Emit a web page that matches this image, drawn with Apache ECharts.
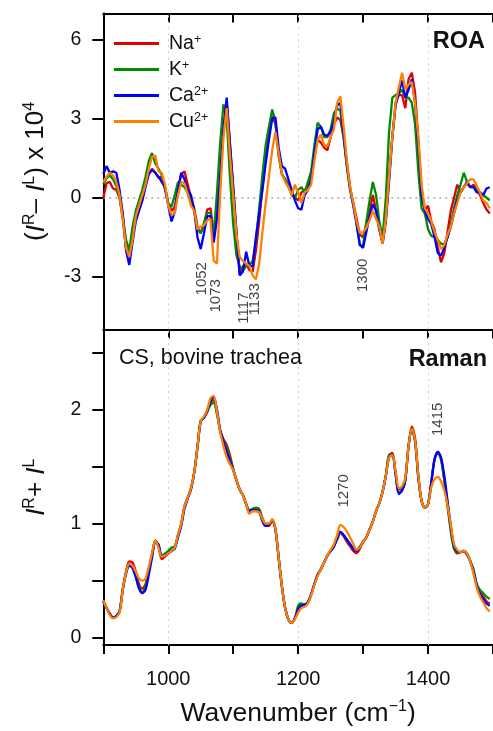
<!DOCTYPE html>
<html>
<head>
<meta charset="utf-8">
<script src="https://cdn.jsdelivr.net/npm/echarts@6/dist/echarts.min.js"></script>
<style>
  html, body { margin: 0; padding: 0; background: #fff; }
  #chart { width: 493px; height: 731px; }
</style>
</head>
<body>
<div id="chart"></div>
<script>
// Wavenumber grid (cm^-1) shared by every spectrum
const wavenumber = [
  900, 905, 910, 915, 920, 925, 930, 935, 940, 945, 950, 955, 960, 965, 970, 975, 980, 985, 990, 995,
  1000, 1005, 1010, 1015, 1020, 1025, 1030, 1035, 1040, 1045, 1050, 1055, 1060, 1065, 1070, 1075, 1080, 1085, 1090, 1095,
  1100, 1105, 1110, 1115, 1120, 1125, 1130, 1135, 1140, 1145, 1150, 1155, 1160, 1165, 1170, 1175, 1180, 1185, 1190, 1195,
  1200, 1205, 1210, 1215, 1220, 1225, 1230, 1235, 1240, 1245, 1250, 1255, 1260, 1265, 1270, 1275, 1280, 1285, 1290, 1295,
  1300, 1305, 1310, 1315, 1320, 1325, 1330, 1335, 1340, 1345, 1350, 1355, 1360, 1365, 1370, 1375, 1380, 1385, 1390, 1395,
  1400, 1405, 1410, 1415, 1420, 1425, 1430, 1435, 1440, 1445, 1450, 1455, 1460, 1465, 1470, 1475, 1480, 1485, 1490, 1495
];

const ionNames = ['Na+', 'K+', 'Ca2+', 'Cu2+'];
const ionColors = ['#e00000', '#008c00', '#0000ff', '#ff8000'];

// ROA, (I^R - I^L) x 10^4
const roaNa = [
  0.0, 0.55, 0.6, 0.35, 0.3, 0.0, -0.8, -1.9, -2.2, -1.5, -0.6, -0.45, -0.1, 0.5, 0.9, 1.1, 0.95, 0.75, 0.8, 0.4,
  -0.2, -0.5, -0.35, 0.3, 0.9, 1.0, 0.5, 0.0, -0.4, -1.1, -1.35, -1.05, -0.45, -0.4, -1.3, -0.8, 0.8, 2.6, 3.65, 2.1,
  0.4, -1.3, -2.9, -2.6, -2.5, -2.75, -2.8, -2.0, -0.9, 0.4, 1.5, 2.5, 3.1, 2.8, 1.6, 0.9, 0.7, 0.5, 0.2, 0.0,
  -0.1, 0.2, 0.3, 0.4, 0.7, 1.6, 2.2, 2.1, 1.9, 1.8, 2.3, 2.8, 3.05, 2.95, 2.3, 1.2, 0.3, -0.2, -0.8, -1.4,
  -1.5, -1.0, -0.5, 0.1, -0.5, -1.2, -1.7, -0.8, 0.8, 2.3, 3.6, 3.9, 3.9, 3.4, 4.5, 4.75, 4.0, 2.2, 0.3, -0.5,
  -0.3, -0.9, -1.2, -1.9, -2.45, -2.1, -1.3, -0.5, 0.0, 0.5, 0.2, 0.4, 0.55, 0.4, 0.5, 0.3, 0.1, -0.2, -0.45, -0.6
];
const roaK = [
  0.5, 0.75, 0.85, 0.7, 0.45, 0.0, -0.7, -1.6, -2.0, -1.1, -0.5, -0.1, 0.3, 0.8, 1.4, 1.7, 1.3, 1.1, 0.85, 0.3,
  -0.2, -0.35, 0.1, 0.6, 0.5, 0.4, 0.2, -0.1, -0.5, -1.2, -1.35, -0.95, -0.55, -0.6, -1.45, 0.2, 2.1, 3.55, 3.0, 0.8,
  -1.0, -2.2, -2.6, -2.75, -2.6, -2.55, -2.4, -1.6, -0.4, 0.9, 2.0, 2.7, 3.35, 2.9, 1.6, 0.9, 0.7, 0.45, 0.1, 0.0,
  0.3, 0.4, 0.2, 0.6, 1.0, 2.0, 2.85, 2.7, 2.3, 2.3, 2.6, 3.2, 3.4, 3.3, 2.3, 1.2, 0.3, -0.3, -1.0, -1.8,
  -1.8, -0.9, -0.1, 0.6, 0.1, -0.9, -1.5, 0.0, 2.5, 3.8, 3.9, 3.95, 4.1, 3.8, 3.8, 3.6, 2.8, 1.0, -0.4, -0.6,
  -1.2, -1.45, -1.5, -1.6, -1.75, -1.75, -1.5, -1.0, -0.4, 0.1, 0.5, 0.95, 0.6, 0.4, 0.4, 0.3, 0.2, 0.1, 0.0, -0.1
];
const roaCa = [
  0.9, 1.2, 0.95, 1.0, 0.95, 0.3, -0.6, -2.0, -2.55, -1.7, -0.9, -0.5, -0.1, 0.4, 0.9, 1.05, 0.95, 0.8, 0.6, 0.4,
  -0.3, -0.9, -0.55, 0.3, 0.95, 0.7, 0.3, 0.1, -0.5, -1.5, -1.95, -1.35, -0.7, -0.7, -1.7, -0.8, 0.8, 2.6, 3.8, 2.0,
  0.4, -1.35, -2.95, -2.8, -2.05, -2.6, -2.6, -1.5, -0.6, 0.3, 1.3, 2.2, 3.0, 3.05, 1.9, 1.2, 1.1, 0.7, 0.3, -0.1,
  -0.4, -0.45, 0.1, 0.3, 0.7, 1.7, 2.6, 2.7, 2.4, 2.35, 2.5, 2.9, 3.5, 3.6, 2.4, 1.3, 0.4, -0.3, -1.0, -1.8,
  -1.9, -1.3, -0.7, -0.25, -0.5, -1.2, -1.75, -0.9, 0.6, 2.3, 3.5, 4.0, 4.45, 3.8, 4.1, 4.5, 3.6, 2.0, 0.1, -0.5,
  -0.8, -1.0, -1.5, -2.1, -2.2, -1.9, -1.5, -1.1, -0.6, -0.1, 0.2, 0.4, 0.6, 0.4, 0.4, 0.2, 0.2, 0.1, 0.35, 0.4
];
const roaCu = [
  0.6, 0.8, 0.95, 0.85, 0.6, 0.1, -0.8, -1.9, -2.25, -1.6, -0.7, -0.3, 0.1, 0.5, 1.1, 1.55, 1.6, 1.0, 0.95, 0.5,
  -0.3, -0.65, -0.6, 0.1, 0.6, 0.55, 0.15, -0.3, -0.5, -1.2, -1.1, -1.05, -0.85, -0.8, -2.4, -2.5, 0.2, 2.3, 3.4, 1.6,
  0.1, -1.4, -2.25, -2.4, -2.5, -2.6, -2.95, -3.1, -2.5, -1.3, -0.2, 0.8, 1.8, 2.5, 1.7, 0.9, 0.6, 0.4, 0.1, 0.5,
  0.2, -0.2, 0.2, 0.3, 0.5, 1.4, 2.2, 2.4, 2.0, 1.95, 2.3, 2.6, 3.6, 3.85, 2.7, 1.4, 0.4, -0.2, -0.9, -1.35,
  -1.3, -1.15, -0.85, -0.5, -0.8, -1.1, -1.75, -0.8, 0.8, 2.3, 3.6, 4.2, 4.75, 4.1, 4.3, 4.4, 3.6, 2.3, 0.5, -0.4,
  -0.6, -0.9, -1.3, -1.6, -1.95, -1.8, -1.4, -1.1, -0.6, -0.2, 0.2, 0.4, 0.55, 0.7, 0.7, 0.45, 0.2, -0.1, -0.2, -0.4
];

// Raman, I^R + I^L
const ramanNa = [
  0.32, 0.26, 0.21, 0.175, 0.19, 0.23, 0.43, 0.58, 0.67, 0.66, 0.58, 0.47, 0.43, 0.47, 0.6, 0.72, 0.85, 0.8, 0.69, 0.71,
  0.74, 0.76, 0.79, 0.9, 1.0, 1.15, 1.23, 1.31, 1.45, 1.67, 1.9, 1.93, 1.98, 2.07, 2.08, 1.97, 1.82, 1.74, 1.69, 1.6,
  1.48, 1.38, 1.3, 1.25, 1.17, 1.09, 1.11, 1.11, 1.1, 1.03, 0.98, 0.98, 1.03, 0.95, 0.7, 0.45, 0.26, 0.16, 0.13, 0.17,
  0.25, 0.29, 0.29, 0.31, 0.38, 0.47, 0.55, 0.6, 0.66, 0.72, 0.76, 0.8, 0.86, 0.92, 0.89, 0.84, 0.8, 0.76, 0.74, 0.78,
  0.84, 0.88, 0.95, 1.02, 1.11, 1.18, 1.28, 1.42, 1.6, 1.62, 1.45, 1.3, 1.3, 1.4, 1.68, 1.85, 1.75, 1.42, 1.2, 1.14,
  1.17, 1.36, 1.57, 1.63, 1.57, 1.38, 1.15, 0.96, 0.79, 0.74, 0.75, 0.76, 0.73, 0.67, 0.58, 0.46, 0.4, 0.36, 0.32, 0.3
];
const ramanK = [
  0.32, 0.26, 0.21, 0.175, 0.19, 0.23, 0.42, 0.57, 0.64, 0.62, 0.54, 0.44, 0.4, 0.45, 0.6, 0.73, 0.85, 0.8, 0.71, 0.74,
  0.76, 0.79, 0.8, 0.9, 1.0, 1.15, 1.23, 1.31, 1.45, 1.67, 1.9, 1.93, 1.98, 2.04, 2.06, 1.96, 1.81, 1.73, 1.66, 1.57,
  1.48, 1.38, 1.3, 1.25, 1.17, 1.12, 1.13, 1.14, 1.13, 1.05, 1.0, 1.0, 1.03, 0.95, 0.7, 0.45, 0.26, 0.16, 0.13, 0.17,
  0.28, 0.3, 0.29, 0.31, 0.38, 0.47, 0.55, 0.6, 0.66, 0.72, 0.76, 0.8, 0.87, 0.92, 0.9, 0.86, 0.82, 0.78, 0.77, 0.8,
  0.84, 0.88, 0.95, 1.02, 1.11, 1.18, 1.28, 1.42, 1.6, 1.6, 1.44, 1.27, 1.29, 1.38, 1.68, 1.83, 1.73, 1.42, 1.2, 1.14,
  1.17, 1.37, 1.56, 1.62, 1.56, 1.38, 1.17, 0.93, 0.78, 0.75, 0.75, 0.76, 0.74, 0.67, 0.6, 0.47, 0.42, 0.39, 0.36, 0.34
];
const ramanCa = [
  0.32, 0.26, 0.21, 0.175, 0.19, 0.23, 0.42, 0.56, 0.63, 0.61, 0.53, 0.43, 0.39, 0.42, 0.55, 0.7, 0.83, 0.82, 0.72, 0.72,
  0.74, 0.76, 0.78, 0.88, 0.98, 1.13, 1.22, 1.3, 1.45, 1.67, 1.9, 1.93, 1.99, 2.07, 2.11, 2.0, 1.82, 1.72, 1.63, 1.55,
  1.47, 1.38, 1.3, 1.25, 1.17, 1.11, 1.12, 1.12, 1.11, 1.02, 0.98, 0.99, 1.03, 0.95, 0.7, 0.45, 0.26, 0.16, 0.13, 0.17,
  0.25, 0.28, 0.29, 0.31, 0.38, 0.47, 0.55, 0.6, 0.66, 0.72, 0.76, 0.8, 0.87, 0.93, 0.9, 0.86, 0.82, 0.78, 0.76, 0.79,
  0.84, 0.88, 0.95, 1.02, 1.11, 1.18, 1.28, 1.42, 1.58, 1.6, 1.43, 1.26, 1.29, 1.38, 1.68, 1.82, 1.72, 1.4, 1.2, 1.14,
  1.17, 1.36, 1.56, 1.63, 1.58, 1.42, 1.2, 0.98, 0.8, 0.76, 0.75, 0.76, 0.73, 0.67, 0.58, 0.46, 0.38, 0.34, 0.3, 0.28
];
const ramanCu = [
  0.33, 0.26, 0.2, 0.17, 0.18, 0.22, 0.42, 0.57, 0.65, 0.63, 0.58, 0.52, 0.5, 0.52, 0.62, 0.74, 0.85, 0.79, 0.71, 0.72,
  0.74, 0.76, 0.79, 0.9, 1.0, 1.15, 1.23, 1.31, 1.45, 1.67, 1.9, 1.94, 2.0, 2.1, 2.12, 1.98, 1.8, 1.68, 1.58, 1.52,
  1.47, 1.38, 1.3, 1.25, 1.17, 1.09, 1.11, 1.11, 1.1, 1.04, 1.0, 1.0, 1.04, 0.96, 0.7, 0.45, 0.26, 0.16, 0.13, 0.16,
  0.22, 0.26, 0.27, 0.3, 0.37, 0.46, 0.54, 0.6, 0.66, 0.72, 0.77, 0.82, 0.9, 0.99, 0.97, 0.93, 0.88, 0.82, 0.77, 0.79,
  0.84, 0.88, 0.95, 1.02, 1.11, 1.18, 1.28, 1.42, 1.58, 1.6, 1.46, 1.31, 1.33, 1.4, 1.68, 1.83, 1.73, 1.42, 1.2, 1.14,
  1.17, 1.32, 1.39, 1.41, 1.37, 1.29, 1.16, 0.99, 0.82, 0.77, 0.75, 0.76, 0.74, 0.67, 0.56, 0.44, 0.36, 0.31, 0.26, 0.23
];

// Band assignments marked on each panel (cm^-1)
const roaBands = [1052, 1073, 1117, 1133, 1300];
const ramanBands = [1270, 1415];

// Axis tick positions and labels
const xTicks = [900, 1000, 1100, 1200, 1300, 1400, 1500];
const xLabels = [1000, 1200, 1400];
const xGuides = [1000, 1200, 1400];
const roaTicks = [-3, 0, 3, 6];
const ramanTicks = [0, 0.5, 1, 1.5, 2, 2.5];
const ramanLabels = [0, 1, 2];

const FONT = '"Liberation Sans", Arial, Helvetica, sans-serif';
const roaSets = [roaNa, roaK, roaCa, roaCu];
const ramanSets = [ramanNa, ramanK, ramanCa, ramanCu];
const pairs = (ys) => wavenumber.map((x, i) => [x, ys[i]]);

const supRich = {
  i: { fontFamily: FONT, fontStyle: 'italic', fontSize: 26, color: '#111', lineHeight: 30 },
  n: { fontFamily: FONT, fontSize: 26, color: '#111', lineHeight: 30 },
  s: { fontFamily: FONT, fontSize: 16, color: '#111', verticalAlign: 'top', lineHeight: 30, padding: [0, 0, 12, 0] }
};

const series = [];
// dotted guide lines behind the spectra
[0, 1].forEach((g) => {
  const lines = xGuides.map((v) => ({ xAxis: v }));
  if (g === 0) lines.push({ yAxis: 0, lineStyle: { color: '#a8a8a8', type: [2, 4], width: 1.5 } });
  series.push({
    type: 'line', xAxisIndex: g === 0 ? 0 : 2, yAxisIndex: g, data: [], z: 1, silent: true,
    markLine: {
      z: 1, silent: true, symbol: ['none', 'none'], label: { show: false },
      lineStyle: { color: '#d0d0d0', type: [2, 4], width: 1 },
      data: lines
    }
  });
});
ionNames.forEach((name, k) => {
  series.push({
    name, type: 'line', xAxisIndex: 0, yAxisIndex: 0, data: pairs(roaSets[k]),
    showSymbol: false, symbol: 'none', z: 3 + k,
    lineStyle: { color: ionColors[k], width: 2.3 }, itemStyle: { color: ionColors[k] }
  });
});
ionNames.forEach((name, k) => {
  series.push({
    name, type: 'line', xAxisIndex: 2, yAxisIndex: 1, data: pairs(ramanSets[k]),
    showSymbol: false, symbol: 'none', smooth: 0.3, z: 3 + k,
    lineStyle: { color: ionColors[k], width: 2.3 }, itemStyle: { color: ionColors[k] }
  });
});

// band labels, rotated, at their wavenumbers
const roaLabelY = [-3.0, -3.8, -4.0, -4.05, -2.87];
const roaLabelDx = [-2, 2, -5, 5, -2];
const ramanLabelY = [1.30, 1.91];
const ramanLabelDx = [-1.5, 0.5];
function bandSeries(bands, ys, dxs, xi, yi) {
  return {
    type: 'scatter', xAxisIndex: xi, yAxisIndex: yi, z: 10, silent: true,
    symbolSize: 0.01, itemStyle: { color: 'rgba(0,0,0,0)' },
    data: bands.map((b, i) => ({
      value: [b, ys[i]], name: String(b),
      label: { offset: [dxs[i], 0] }
    })),
    label: {
      show: true, position: 'inside', rotate: 90, formatter: (p) => p.name,
      fontFamily: FONT, fontSize: 15, color: '#111'
    }
  };
}
series.push(bandSeries(roaBands, roaLabelY, roaLabelDx, 0, 0));
series.push(bandSeries(ramanBands, ramanLabelY, ramanLabelDx, 2, 1));

const frame = { show: true, onZero: false, lineStyle: { color: '#000', width: 2 } };
const xBase = { type: 'value', min: 900, max: 1500, splitLine: { show: false } };
const tickStyle = { color: '#000', width: 2 };

const option = {
  animation: false,
  backgroundColor: '#fff',
  grid: [
    { left: 103.3, right: -5, top: 13.4, height: 316 },
    { left: 103.3, right: -5, top: 329.4, height: 315.6 }
  ],
  title: [
    { text: 'ROA', right: 8, top: 30, padding: 0,
      textStyle: { fontFamily: FONT, fontSize: 23.5, fontWeight: 'bold', color: '#111' } },
    { text: 'Raman', right: 6, top: 348, padding: 0,
      textStyle: { fontFamily: FONT, fontSize: 23.5, fontWeight: 'bold', color: '#111' } },
    { text: 'CS, bovine trachea', left: 119, top: 347, padding: 0,
      textStyle: { fontFamily: FONT, fontSize: 21.5, fontWeight: 'normal', color: '#111' } }
  ],
  legend: {
    data: ionNames, orient: 'vertical', left: 114, top: 33, padding: 0,
    itemWidth: 45, itemHeight: 3, itemGap: 5, icon: 'rect',
    formatter: (n) => {
      const m = n.match(/^([A-Za-z]+)(.*)$/);
      return '{b|' + m[1] + '}{s|' + m[2] + '}';
    },
    textStyle: {
      fontFamily: FONT, color: '#111', padding: [0, 0, 0, 5],
      rich: {
        b: { fontFamily: FONT, fontSize: 19.5, color: '#111', lineHeight: 21 },
        s: { fontFamily: FONT, fontSize: 12.5, color: '#111', verticalAlign: 'top', lineHeight: 21, padding: [0, 0, 8, 0] }
      }
    }
  },
  xAxis: [
    Object.assign({}, xBase, { gridIndex: 0, position: 'top', axisLine: frame,
      axisTick: { show: true, inside: true, length: 9, lineStyle: tickStyle, customValues: xTicks },
      axisLabel: { show: false } }),
    Object.assign({}, xBase, { gridIndex: 0, position: 'bottom', axisLine: frame,
      axisTick: { show: true, inside: false, length: 9, lineStyle: tickStyle, customValues: xTicks },
      axisLabel: { show: false } }),
    Object.assign({}, xBase, { gridIndex: 1, position: 'bottom', axisLine: frame,
      axisTick: { show: true, inside: false, length: 9, lineStyle: tickStyle, customValues: xTicks },
      axisLabel: { show: true, customValues: xLabels, margin: 24, formatter: (v) => String(v),
        fontFamily: FONT, fontSize: 20, color: '#111' },
      name: 'Wavenumber (cm{s|\u22121})', nameLocation: 'middle', nameGap: 54,
      nameTextStyle: {
        fontFamily: FONT, fontSize: 26.5, color: '#111',
        rich: {
          s: { fontFamily: FONT, fontSize: 16, color: '#111', verticalAlign: 'top', lineHeight: 30, padding: [0, 0, 12, 0] }
        }
      } })
  ],
  yAxis: [
    { type: 'value', gridIndex: 0, min: -5, max: 7, position: 'left', axisLine: frame,
      splitLine: { show: false },
      axisTick: { show: true, inside: false, length: 11, lineStyle: tickStyle, customValues: roaTicks },
      axisLabel: { show: true, customValues: roaTicks, margin: 22, fontFamily: FONT, fontSize: 19.5, color: '#111' },
      name: '{n|(}{i|I}{s|R}{n|\u2013 }{i|I}{s|L}{n|) x 10}{s|4}', nameLocation: 'middle', nameRotate: 90, nameGap: 52,
      nameTextStyle: { fontFamily: FONT, fontSize: 26, color: '#111', rich: supRich } },
    { type: 'value', gridIndex: 1, min: -0.064, max: 2.703, position: 'left', axisLine: frame,
      splitLine: { show: false },
      axisTick: { show: true, inside: false, length: 11, lineStyle: tickStyle, customValues: ramanTicks },
      axisLabel: { show: true, customValues: ramanLabels, margin: 22, fontFamily: FONT, fontSize: 19.5, color: '#111' },
      name: '{i|I}{s|R}{n|+ }{i|I}{s|L}', nameLocation: 'middle', nameRotate: 90, nameGap: 52,
      nameTextStyle: { fontFamily: FONT, fontSize: 26, color: '#111', rich: supRich } }
  ],
  series
};

const chart = echarts.init(document.getElementById('chart'), null, { renderer: 'canvas' });
chart.setOption(option);
</script>
</body>
</html>
